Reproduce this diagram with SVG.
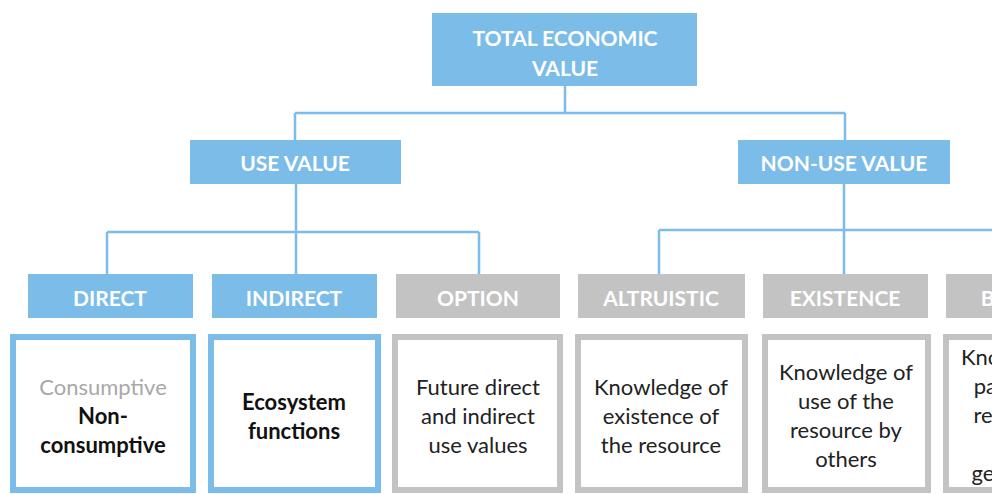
<svg xmlns="http://www.w3.org/2000/svg" width="992" height="494" viewBox="0 0 992 494">
<style>
.hb{fill:#7bbde8}
.hg{fill:#c3c3c3}
.bb{fill:#fff;stroke:#7bbde8;stroke-width:6}
.bg{fill:#fff;stroke:#c3c3c3;stroke-width:6}
.ht{font-family:Lato,"Liberation Sans",sans-serif;font-weight:bold;font-size:21px;fill:#fff;text-anchor:middle}
.bt{font-family:Lato,"Liberation Sans",sans-serif;font-size:22px;fill:#222;text-anchor:middle}
.bold{font-weight:bold;fill:#111}
.lt{fill:#a8a8a8}
.c{fill:none;stroke:#7bbde8;stroke-width:2.5}
</style>
<rect width="992" height="494" fill="#fff"/>
<g id="connectors">
<path class="c" d="M565 86V113M295 113H845M295 113V140M845 113V140"/>
<path class="c" d="M296 184V232M107 232H479M107 232V274M296 232V274M479 232V274"/>
<path class="c" d="M844 184V230M659 230H992M659 230V274M844 230V274"/>
</g>
<g id="total"><rect class="hb" x="432" y="13" width="265" height="73"/><text class="ht" x="565" y="46">TOTAL ECONOMIC</text><text class="ht" x="565" y="76">VALUE</text></g>
<g id="use"><rect class="hb" x="190" y="140" width="211" height="44"/><text class="ht" x="295" y="171">USE VALUE</text></g>
<g id="nonuse"><rect class="hb" x="738" y="140" width="212" height="44"/><text class="ht" x="844" y="171">NON-USE VALUE</text></g>
<g id="direct"><rect class="hb" x="28" y="274" width="165" height="44"/><text class="ht" x="110" y="306">DIRECT</text></g>
<g id="indirect"><rect class="hb" x="212" y="274" width="165" height="44"/><text class="ht" x="294" y="306">INDIRECT</text></g>
<g id="option"><rect class="hg" x="396" y="274" width="164" height="44"/><text class="ht" x="478" y="306">OPTION</text></g>
<g id="altruistic"><rect class="hg" x="578" y="274" width="167" height="44"/><text class="ht" x="661" y="306">ALTRUISTIC</text></g>
<g id="existence"><rect class="hg" x="763" y="274" width="165" height="44"/><text class="ht" x="845" y="306">EXISTENCE</text></g>
<g id="bequest"><rect class="hg" x="946" y="274" width="165" height="44"/><text class="ht" x="1028" y="306">BEQUEST</text></g>
<g id="direct-desc"><rect class="bb" x="13" y="337" width="180" height="153"/><text class="bt lt" x="103" y="395">Consumptive</text><text class="bt bold" x="103" y="424">Non-</text><text class="bt bold" x="103" y="453">consumptive</text></g>
<g id="indirect-desc"><rect class="bb" x="211" y="337" width="167" height="153"/><text class="bt bold" x="294" y="410">Ecosystem</text><text class="bt bold" x="294" y="439">functions</text></g>
<g id="option-desc"><rect class="bg" x="395" y="337" width="165" height="153"/><text class="bt" x="478" y="395">Future direct</text><text class="bt" x="478" y="424">and indirect</text><text class="bt" x="478" y="453">use values</text></g>
<g id="altruistic-desc"><rect class="bg" x="578" y="337" width="167" height="153"/><text class="bt" x="661" y="395">Knowledge of</text><text class="bt" x="661" y="424">existence of</text><text class="bt" x="661" y="453">the resource</text></g>
<g id="existence-desc"><rect class="bg" x="765" y="337" width="163" height="153"/><text class="bt" x="846" y="380">Knowledge of</text><text class="bt" x="846" y="409">use of the</text><text class="bt" x="846" y="438">resource by</text><text class="bt" x="846" y="467">others</text></g>
<g id="bequest-desc"><rect class="bg" x="946" y="337" width="165" height="153"/><text class="bt" x="1028" y="365">Knowledge of</text><text class="bt" x="1028" y="394">passing the</text><text class="bt" x="1028" y="423">resource to</text><text class="bt" x="1028" y="481">generations</text></g>
</svg>
